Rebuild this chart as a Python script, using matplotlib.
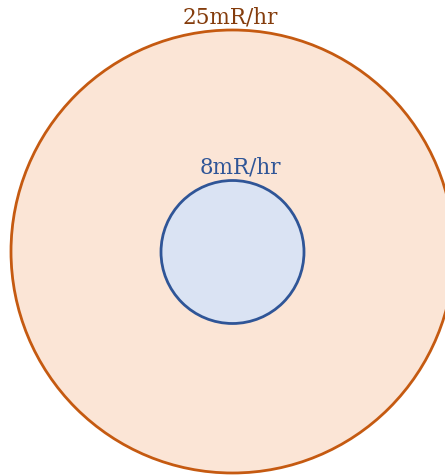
import matplotlib.pyplot as plt
from matplotlib.patches import Circle

# zones: label, radius (px), centre, colours
labels = ["25mR/hr", "8mR/hr"]
radii = [221.5, 71.5]
centers = [(232.5, 251.5), (232.5, 252.0)]
fills = ["#FBE5D6", "#DAE3F3"]
edges = ["#C55A11", "#2F5597"]
text_colors = ["#843C0C", "#2F5597"]
label_pos = [(230, 17), (240, 168)]

fig = plt.figure(figsize=(4.45, 4.76), dpi=100)
ax = fig.add_axes([0, 0, 1, 1])
ax.set_xlim(0, 445)
ax.set_ylim(476, 0)
ax.set_aspect("equal")
ax.axis("off")

for (cx, cy), r, fc, ec in zip(centers, radii, fills, edges):
    ax.add_patch(Circle((cx, cy), r, facecolor=fc, edgecolor=ec, linewidth=2.0))

for (tx, ty), lab, tc in zip(label_pos, labels, text_colors):
    ax.text(tx, ty, lab, color=tc, fontsize=15.5, family="DejaVu Serif",
            ha="center", va="center")

fig.savefig("out.png", dpi=100)
